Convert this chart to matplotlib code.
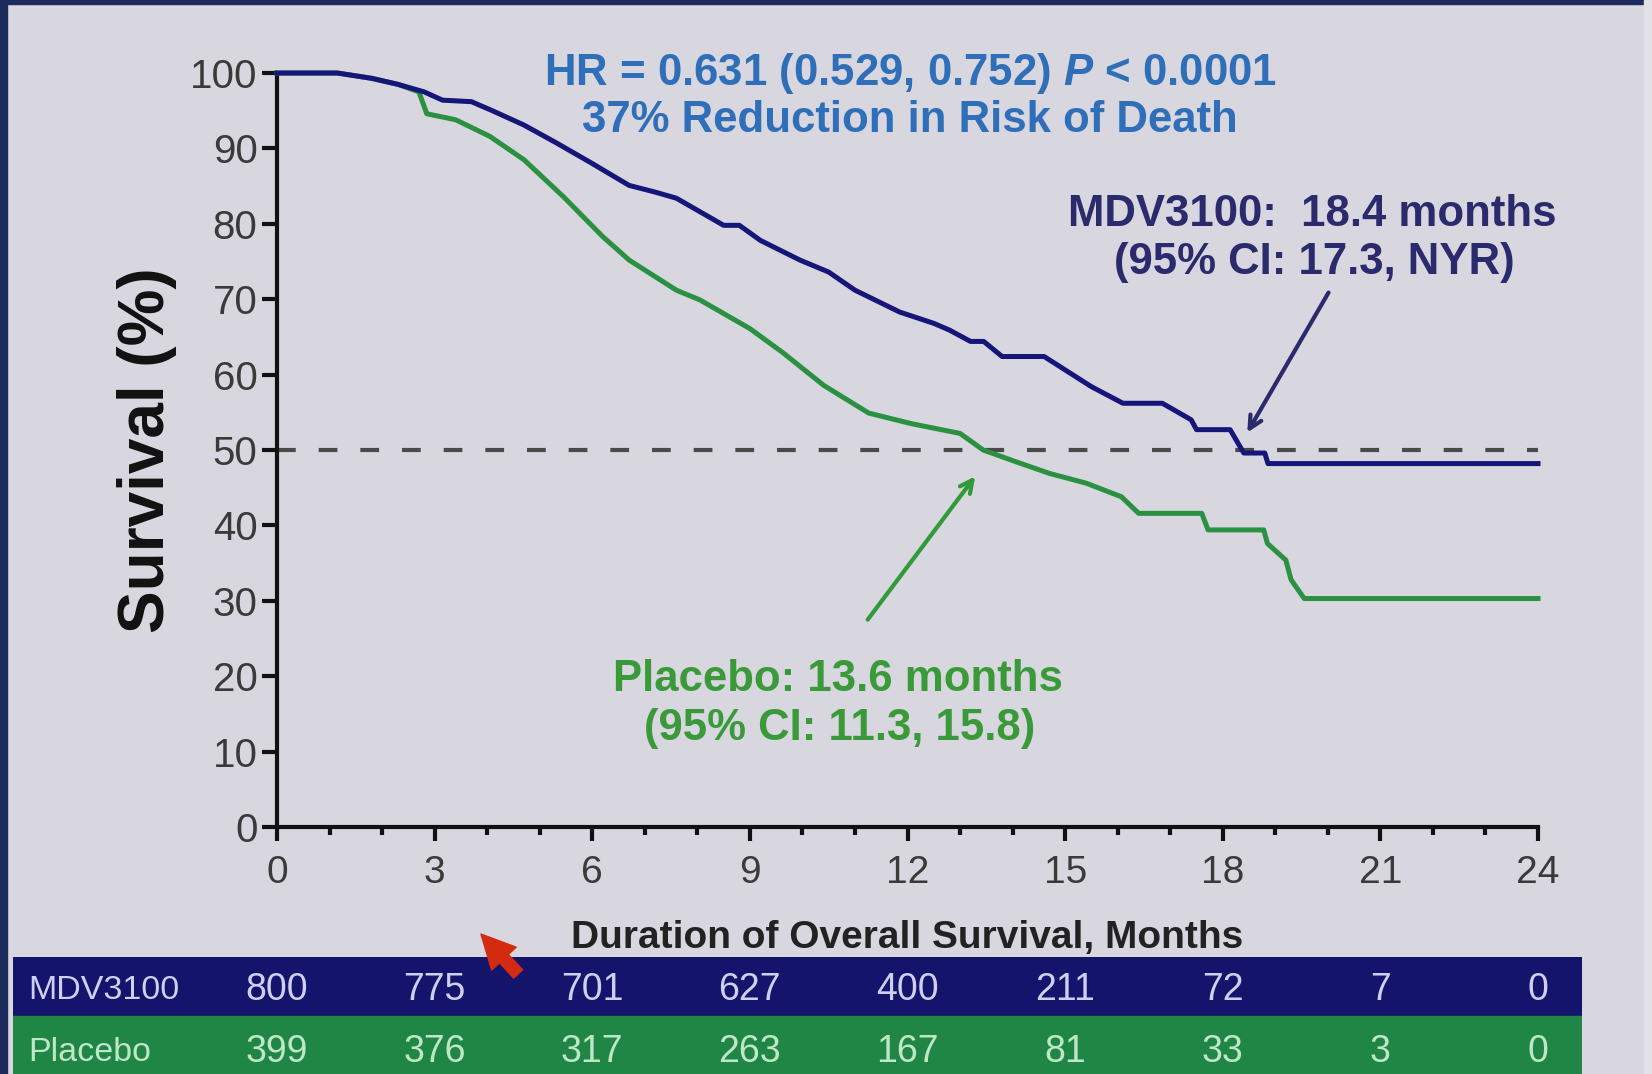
import numpy as np
import matplotlib.pyplot as plt
from matplotlib.patches import Rectangle, FancyArrowPatch
from matplotlib.ticker import MultipleLocator

plt.rcParams['font.family'] = ['Liberation Sans', 'DejaVu Sans']
plt.rcParams['mathtext.fontset'] = 'custom'
plt.rcParams['mathtext.it'] = 'Liberation Sans:italic:bold'
plt.rcParams['mathtext.rm'] = 'Liberation Sans:bold'

# Curva Kaplan-Meier MDV3100 (meses, % supervivencia)
meses_mdv = [0, 1.15, 1.8, 2.3, 2.8, 3.15, 3.7, 4.1, 4.7, 5.3, 5.95, 6.7, 7.2, 7.6,
             8.05, 8.5, 8.8, 9.2, 9.95, 10.5, 11.0, 11.85, 12.5, 12.8, 13.2, 13.45,
             13.8, 14.6, 15.5, 16.1, 16.85, 17.4, 17.5, 18.14, 18.4, 18.8, 18.86, 24]
superv_mdv = [100, 100, 99.3, 98.5, 97.5, 96.4, 96.2, 95.0, 93.1, 90.8, 88.2, 85.1, 84.2, 83.4,
              81.6, 79.8, 79.8, 77.8, 75.2, 73.6, 71.2, 68.3, 66.8, 65.9, 64.4, 64.4,
              62.4, 62.4, 58.4, 56.2, 56.2, 54.0, 52.7, 52.7, 49.6, 49.6, 48.2, 48.2]

# Curva Kaplan-Meier placebo
meses_pbo = [0, 1.15, 1.8, 2.3, 2.7, 2.85, 3.4, 4.05, 4.7, 5.45, 6.2, 6.7, 7.6, 8.05,
             9.0, 9.63, 10.4, 11.26, 12.07, 13.0, 13.44, 14.08, 14.7, 15.4, 16.07, 16.4,
             17.6, 17.72, 18.78, 18.85, 19.2, 19.3, 19.55, 24]
superv_pbo = [100, 100, 99.3, 98.5, 97.5, 94.6, 93.8, 91.6, 88.5, 83.6, 78.3, 75.2, 71.2, 69.9,
              66.1, 62.9, 58.6, 54.9, 53.5, 52.2, 50.0, 48.4, 46.9, 45.6, 43.8, 41.6,
              41.6, 39.4, 39.4, 37.6, 35.4, 32.8, 30.3, 30.3]

# Pacientes en riesgo
grupos = ['MDV3100', 'Placebo']
meses_tabla = [0, 3, 6, 9, 12, 15, 18, 21, 24]
riesgo_mdv = [800, 775, 701, 627, 400, 211, 72, 7, 0]
riesgo_pbo = [399, 376, 317, 263, 167, 81, 33, 3, 0]

fondo = '#d8d6de'
azul = '#15157a'
verde = '#2b9142'

fig = plt.figure(figsize=(16.52, 10.74), dpi=100, facecolor=fondo)
ax = fig.add_axes([0.1677, 0.230, 0.7633, 0.702])
ax.set_facecolor(fondo)

# Curvas y linea de mediana
ax.plot([0, 24], [50, 50], color='#4a4a4a', lw=3, dashes=(4.5, 5.5), zorder=2)
ax.plot(meses_pbo, superv_pbo, color=verde, lw=3.6, clip_on=False, zorder=3)
ax.plot(meses_mdv, superv_mdv, color=azul, lw=3.6, clip_on=False, zorder=4)

ax.set_xlim(0, 24)
ax.set_ylim(0, 100)
for lado in ['top', 'right']:
    ax.spines[lado].set_visible(False)
for lado in ['left', 'bottom']:
    ax.spines[lado].set_linewidth(3)
    ax.spines[lado].set_color('#111111')

ax.xaxis.set_major_locator(MultipleLocator(3))
ax.xaxis.set_minor_locator(MultipleLocator(1))
ax.yaxis.set_major_locator(MultipleLocator(10))
ax.tick_params(axis='y', length=11, width=3, pad=3, labelsize=29, labelcolor='#3a3a3a', color='#111111')
ax.tick_params(axis='x', which='major', length=10, width=3, pad=10, labelsize=28, labelcolor='#3a3a3a', color='#111111')
ax.tick_params(axis='x', which='minor', length=6, width=3, color='#111111')

ax.set_ylabel('Survival (%)', fontsize=46, fontweight='bold', color='#111111')
ax.yaxis.set_label_coords(-0.079, 0.5)
ax.set_xlabel('Duration of Overall Survival, Months', fontsize=28, fontweight='bold', color='#222222')
ax.xaxis.set_label_coords(0.5, -0.123)

# Textos
ax.text(12.05, 100.0, r'HR = 0.631 (0.529, 0.752) $P$ < 0.0001', fontsize=31.5, fontweight='bold',
        color='#2f6eb8', ha='center', va='center', clip_on=False)
ax.text(12.05, 93.7, '37% Reduction in Risk of Death', fontsize=31.5, fontweight='bold',
        color='#2f6eb8', ha='center', va='center')
ax.text(19.7, 81.3, 'MDV3100:  18.4 months', fontsize=31.5, fontweight='bold',
        color='#2a2a6c', ha='center', va='center')
ax.text(19.75, 74.9, '(95% CI: 17.3, NYR)', fontsize=31.5, fontweight='bold',
        color='#2a2a6c', ha='center', va='center')
ax.text(10.67, 19.5, 'Placebo: 13.6 months', fontsize=31.5, fontweight='bold',
        color='#3a9a3a', ha='center', va='center')
ax.text(10.7, 13.0, '(95% CI: 11.3, 15.8)', fontsize=31.5, fontweight='bold',
        color='#3a9a3a', ha='center', va='center')

# Flechas
ax.annotate('', xy=(18.44, 52.0), xytext=(20.04, 71.2),
            arrowprops=dict(arrowstyle='->,head_length=0.9,head_width=0.45', color='#2a2a6c', lw=3))
ax.annotate('', xy=(13.32, 46.8), xytext=(11.21, 27.2),
            arrowprops=dict(arrowstyle='->,head_length=0.9,head_width=0.45', color='#2e9a3a', lw=3))

# Tabla de pacientes en riesgo
tab = fig.add_axes([13 / 1652, 0, 1569 / 1652, 117 / 1074])
tab.set_xlim(-5.025, 24.84)
tab.set_ylim(0, 2)
tab.axis('off')
tab.axhspan(1, 2, color='#14146c')
tab.axhspan(0, 1, color='#1f8646')
filas = [(riesgo_mdv, 1.43, '#cfcff2'), (riesgo_pbo, 0.37, '#bfe6c6')]
for nombre, (valores, y, col) in zip(grupos, filas):
    tab.text(-4.74, y, nombre, fontsize=24.5, color=col, ha='left', va='center')
    for m, v in zip(meses_tabla, valores):
        tab.text(m, y, str(v), fontsize=27, color=col, ha='center', va='center')

# Marco y cursor
fig.add_artist(Rectangle((0, 0), 7 / 1652, 1, transform=fig.transFigure, color='#1c2b5c'))
fig.add_artist(Rectangle((0, 1 - 4 / 1074), 1, 4 / 1074, transform=fig.transFigure, color='#1c2b5c'))
fig.add_artist(Rectangle((1 - 8 / 1652, 0), 8 / 1652, 1, transform=fig.transFigure, color='#e2e1e8'))
fig.add_artist(FancyArrowPatch((0.3148, 0.0913), (0.290, 0.1322), transform=fig.transFigure,
                               arrowstyle='simple,head_length=1.1,head_width=1.1,tail_width=0.4',
                               mutation_scale=22, color='#d42a10', zorder=20))

fig.savefig('out.png', dpi=100, facecolor=fondo)
